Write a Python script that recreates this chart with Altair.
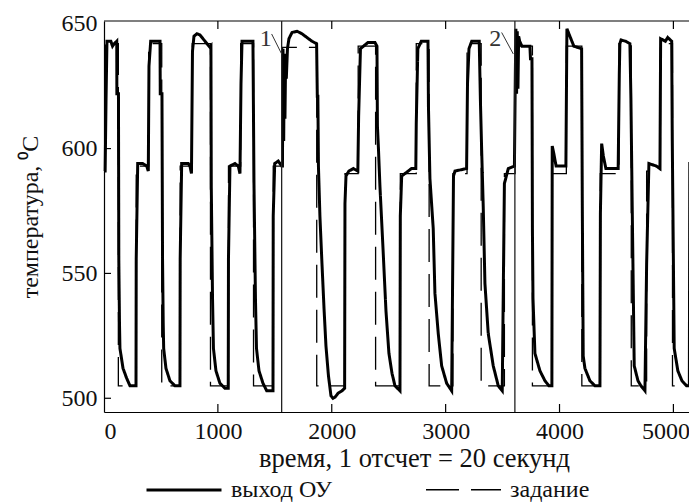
import altair as alt
import pandas as pd

# ---- data ----
out_t = [0, 10, 18, 26, 60, 75, 90, 112, 113, 127, 130, 136, 140, 167, 199, 228, 281, 283, 296, 340, 375, 389, 395, 410,
         492, 494, 509, 514, 520, 524, 544, 579, 623, 667, 669, 682, 740, 755, 768,
         777, 790, 817, 843, 887, 931, 939, 942, 953, 961, 983, 1018, 1062, 1091, 1093, 1106, 1150, 1179, 1194, 1203, 1212,
         1308, 1317, 1330, 1339, 1361, 1396, 1429, 1484, 1486, 1499, 1530, 1560,
         1567, 1572, 1578, 1583, 1589, 1595, 1601, 1611, 1624, 1651, 1695, 1738, 1782, 1826, 1867,
         1873, 1878, 1883, 1896, 1914, 1932, 1949, 1971, 1993, 2011, 2030, 2055, 2090, 2113, 2116, 2125, 2150, 2190, 2229,
         2236, 2252, 2318, 2379, 2397, 2401, 2410, 2423, 2450, 2476, 2502, 2529, 2555, 2599,
         2602, 2614, 2643, 2700, 2738, 2742, 2756, 2786, 2845, 2849, 2862, 2891, 2906, 2935, 2965, 3009, 3053,
         3064, 3069, 3082, 3184, 3192, 3205, 3229, 3295, 3305, 3316, 3330, 3345, 3374, 3418, 3462, 3497,
         3516, 3550, 3604, 3612, 3617, 3623, 3629, 3635, 3641, 3650, 3670, 3740, 3745, 3758, 3762, 3767, 3784, 3828, 3872, 3907, 3933,
         3936, 3950, 3970, 4056, 4062, 4065, 4091, 4126, 4194, 4200, 4208, 4223, 4267, 4311, 4355,
         4359, 4370, 4385, 4407, 4515, 4525, 4530, 4540, 4580, 4618, 4627, 4638, 4656, 4689, 4715, 4750,
         4765, 4785, 4850, 4882, 4888, 4930, 4950, 4985, 4990, 5007, 5039, 5075, 5116, 5140, 5144, 5250]
out_v = [591, 591, 620, 643, 643, 641, 642, 643, 622, 622, 556, 530, 520, 512, 508, 505, 505, 556, 594, 594, 593, 591, 633, 643,
         643, 622, 622, 556, 530, 520, 512, 507, 505, 505, 556, 594, 594, 593, 590,
         639, 645, 646, 645.5, 643, 640.5, 641, 585, 540, 520, 511, 506, 504, 504, 556, 593, 594, 593, 590, 626, 643,
         643, 586, 540, 520, 511, 506, 503, 503, 573, 594, 595, 593,
         593, 640, 603, 638, 612, 636, 628, 640, 644, 646.5, 647, 646, 644.5, 643, 642,
         621, 621, 593, 573, 554, 536, 521, 509, 501, 500, 500.5, 502, 503, 504, 578, 589, 591, 592, 591,
         613, 640, 642.5, 642.5, 641, 609, 600, 585, 560, 535, 518, 510, 505, 503,
         573, 589, 590, 592, 592, 610, 640, 643, 643, 617, 588, 568, 542, 526, 513, 506, 503,
         562, 589, 591, 592, 626, 640, 643, 643, 620, 600, 577, 546, 526, 513, 505, 503,
         586, 592, 593, 630, 648, 622, 647, 624, 645, 643, 641, 641, 636, 636, 568, 540, 518, 511, 507, 505, 505,
         601, 598, 593, 593, 630, 648, 645, 641, 640, 578, 517, 512, 507, 505, 505,
         574, 602, 597, 592, 592, 630, 642, 643.5, 643, 642, 620, 578, 513, 507, 505, 503,
         554, 594, 593, 592, 644, 643, 644.5, 643, 604, 520, 511, 507, 505, 505, 594, 594]

sp_t = [0, 12, 126, 283, 392, 507, 669, 775, 935, 1093, 1200, 1313, 1486, 1568, 1868, 2116, 2232, 2385,
        2602, 2742, 2855, 3064, 3188, 3312, 3516, 3610, 3762, 3935, 4060, 4196, 4358, 4522, 4630,
        4765, 4886, 4992, 5144, 5250]
sp_v = [593, 642, 505, 593, 642, 505, 593, 642, 505, 593, 642, 505, 593, 640.5, 505, 590, 641, 505,
        590, 642, 505, 590, 642, 505, 590, 641, 505, 590, 641, 505, 590, 642, 505,
        591, 642, 505, 591, 591]

series_names = ["выход ОУ", "задание"]
x_tick_values = [0, 1000, 2000, 3000, 4000, 5000]
y_tick_values = [500, 550, 600, 650]
inner_x_ticks = [1000, 2000, 3000, 4000, 5000]
inner_y_ticks = [500, 550, 600]
switch_t = [1560, 3608]
note_text = ["1", "2"]
note_t = [1421, 3436]
note_v = [641.2, 641.2]
lead_t = [1472, 3492]
lead_v = [645.9, 646.5]
lead_t2 = [1560, 3594]
lead_v2 = [637.9, 637.9]

x_title = "время, 1 отсчет = 20 секунд"
y_title = "температура, \u2070C"

# ---- chart ----
W, H = 585, 391
FONT = "Liberation Serif, Times New Roman, serif"
TXT = "#111111"

xs = alt.Scale(domain=[0, 5137], nice=False, zero=False)
ys = alt.Scale(domain=[494.5, 651.1], nice=False, zero=False)

x_axis = alt.Axis(values=x_tick_values, ticks=False, grid=False, domainColor="black", domainWidth=1.2,
                  labelFont=FONT, labelFontSize=24, labelColor=TXT, labelPadding=7, format="d",
                  labelOffset={"condition": {"test": "datum.value == 5000", "value": -8}, "value": 0},
                  title=x_title, titleFont=FONT, titleFontSize=26.5, titleFontWeight="normal", titleColor=TXT,
                  titleX=310, titleY=54, titleBaseline="alphabetic", titleAlign="center")
y_axis = alt.Axis(values=y_tick_values, ticks=False, grid=False, domainColor="black", domainWidth=1.2,
                  labelFont=FONT, labelFontSize=24, labelColor=TXT, labelPadding=7, format="d",
                  title=y_title, titleFont=FONT, titleFontSize=24, titleFontWeight="normal", titleColor=TXT,
                  titleX=-67, titleY=H / 2, titleAngle=270, titleBaseline="alphabetic", titleAlign="center")

legend = alt.Legend(title=None, orient="none", legendX=41, legendY=430, direction="horizontal",
                    symbolType="stroke", symbolSize=5625, symbolStrokeColor="black",
                    labelFont=FONT, labelFontSize=24, labelColor=TXT, labelOffset=8,
                    columnPadding=90, padding=0)

dash_enc = alt.StrokeDash("series:N", scale=alt.Scale(domain=series_names, range=[[1, 0], [33, 12]]), legend=legend)
width_enc = alt.StrokeWidth("series:N", scale=alt.Scale(domain=series_names, range=[3, 1.3]), legend=legend)

out_df = pd.DataFrame({"t": out_t, "temp": out_v, "series": series_names[0]})
sp_df = pd.DataFrame({"t": sp_t, "temp": sp_v, "series": series_names[1]})

setpoint = alt.Chart(sp_df).mark_line(interpolate="step-after", color="black").encode(
    x=alt.X("t:Q", scale=xs, axis=x_axis),
    y=alt.Y("temp:Q", scale=ys, axis=y_axis),
    strokeDash=dash_enc, strokeWidth=width_enc,
)
output = alt.Chart(out_df).mark_line(color="black", strokeMiterLimit=4).encode(
    x=alt.X("t:Q", scale=xs, axis=x_axis),
    y=alt.Y("temp:Q", scale=ys, axis=y_axis),
    strokeDash=dash_enc, strokeWidth=width_enc,
)

tick_df = pd.DataFrame({"t": inner_x_ticks})
ticks_bottom = alt.Chart(tick_df).mark_rule(color="black", strokeWidth=1.2).encode(
    x=alt.X("t:Q", scale=xs, axis=x_axis), y=alt.value(H), y2=alt.value(H - 8))
ticks_top = alt.Chart(tick_df).mark_rule(color="black", strokeWidth=1.2).encode(
    x=alt.X("t:Q", scale=xs, axis=x_axis), y=alt.value(0), y2=alt.value(8))
ytick_df = pd.DataFrame({"temp": inner_y_ticks})
ticks_left = alt.Chart(ytick_df).mark_rule(color="black", strokeWidth=1.2).encode(
    y=alt.Y("temp:Q", scale=ys, axis=y_axis), x=alt.value(0), x2=alt.value(7))
top_border = alt.Chart(pd.DataFrame({"k": [0]})).mark_rule(color="black", strokeWidth=1.2).encode(
    x=alt.value(0), x2=alt.value(W), y=alt.value(0))

switch_df = pd.DataFrame({"t": switch_t})
switches = alt.Chart(switch_df).mark_rule(color="#222222", strokeWidth=1.3).encode(
    x=alt.X("t:Q", scale=xs, axis=x_axis), y=alt.value(0), y2=alt.value(H))

lead_df = pd.DataFrame({"t": lead_t, "temp": lead_v, "t2": lead_t2, "temp2": lead_v2})
leads = alt.Chart(lead_df).mark_rule(color="#333333", strokeWidth=1).encode(
    x=alt.X("t:Q", scale=xs, axis=x_axis), y=alt.Y("temp:Q", scale=ys, axis=y_axis),
    x2="t2:Q", y2="temp2:Q")

note_df = pd.DataFrame({"t": note_t, "temp": note_v, "label": note_text})
notes = alt.Chart(note_df).mark_text(font=FONT, fontSize=24, color="#333333", baseline="alphabetic",
                                     align="center").encode(
    x=alt.X("t:Q", scale=xs, axis=x_axis), y=alt.Y("temp:Q", scale=ys, axis=y_axis), text="label:N")

chart = alt.layer(setpoint, output, ticks_bottom, ticks_top, ticks_left, top_border, switches, leads, notes).properties(
    width=W, height=H,
    autosize=alt.AutoSizeParams(type="none"),
    padding={"left": 96, "top": 13, "right": 0, "bottom": 90},
    background="white",
).configure_view(stroke=None)

chart.save("out.html", embed_options={"renderer": "svg", "actions": False})
